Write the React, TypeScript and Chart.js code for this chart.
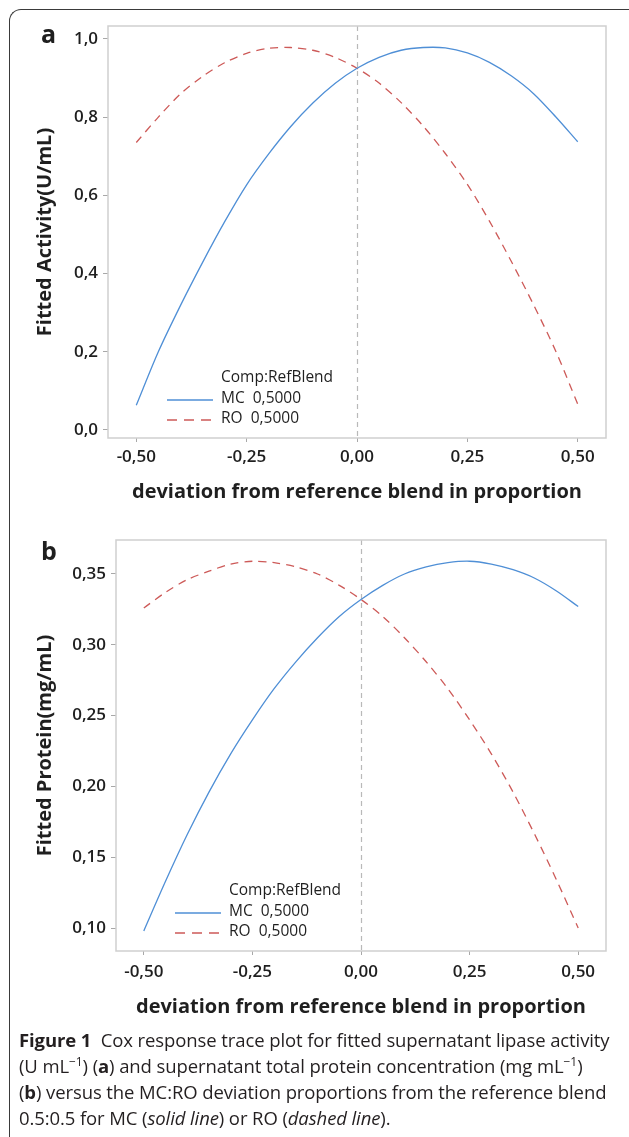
import React, { useEffect, useRef } from 'react';
import { Chart, registerables } from 'chart.js';

Chart.register(...registerables);

// ---------- data ----------
const xValues = [-0.5, -0.45, -0.4, -0.35, -0.3, -0.25, -0.2, -0.15, -0.1, -0.05, 0, 0.05, 0.1, 0.15, 0.2, 0.25, 0.3, 0.35, 0.4, 0.45, 0.5];

const mcActivity = [0.063, 0.2, 0.318, 0.428, 0.532, 0.627, 0.706, 0.776, 0.836, 0.886, 0.925, 0.953, 0.971, 0.978, 0.977, 0.964, 0.94, 0.905, 0.86, 0.801, 0.737];
const roActivity = [0.735, 0.8, 0.859, 0.904, 0.939, 0.963, 0.976, 0.978, 0.971, 0.953, 0.925, 0.887, 0.837, 0.777, 0.707, 0.628, 0.534, 0.43, 0.32, 0.202, 0.066];

const mcProtein = [0.098, 0.133, 0.166, 0.196, 0.223, 0.247, 0.269, 0.288, 0.305, 0.32, 0.332, 0.342, 0.35, 0.355, 0.358, 0.359, 0.357, 0.353, 0.347, 0.338, 0.327];
const roProtein = [0.326, 0.337, 0.346, 0.352, 0.357, 0.359, 0.358, 0.355, 0.35, 0.342, 0.332, 0.32, 0.305, 0.288, 0.269, 0.247, 0.223, 0.196, 0.166, 0.134, 0.1];

const xTickValues = [-0.5, -0.25, 0, 0.25, 0.5];
const xTickLabels = ['-0,50', '-0,25', '0,00', '0,25', '0,50'];

const yTickValuesA = [0, 0.2, 0.4, 0.6, 0.8, 1.0];
const yTickLabelsA = ['0,0', '0,2', '0,4', '0,6', '0,8', '1,0'];

const yTickValuesB = [0.1, 0.15, 0.2, 0.25, 0.3, 0.35];
const yTickLabelsB = ['0,10', '0,15', '0,20', '0,25', '0,30', '0,35'];

const seriesNames = ['MC  0,5000', 'RO  0,5000'];
const legendTitle = 'Comp:RefBlend';
const xTitle = 'deviation from reference blend in proportion';
const yTitleA = 'Fitted Activity(U/mL)';
const yTitleB = 'Fitted Protein(mg/mL)';

// ---------- styles ----------
const BLUE = '#4f8fd6';
const RED = '#cd5a58';
const FONT = '"Open Sans", "Noto Sans", sans-serif';
const TEXT = '#1f1f1f';

const refPlugin = {
  id: 'refAndLegend',
  beforeDatasetsDraw(chart: any) {
    const { ctx, chartArea } = chart;
    const { left, right, top, bottom } = chartArea;
    const x0 = chart.scales.x.getPixelForValue(0);
    ctx.save();
    ctx.strokeStyle = '#b9b9b9';
    ctx.lineWidth = 1.2;
    ctx.setLineDash([5, 4]);
    ctx.beginPath();
    ctx.moveTo(Math.round(x0) + 0.5, top);
    ctx.lineTo(Math.round(x0) + 0.5, bottom);
    ctx.stroke();
    ctx.setLineDash([]);
    ctx.strokeStyle = '#cfcfcf';
    ctx.lineWidth = 1.5;
    ctx.strokeRect(left, top, right - left, bottom - top);
    ctx.restore();
  },
  afterDatasetsDraw(chart: any) {
    const { ctx, chartArea } = chart;
    const { left, bottom } = chartArea;
    ctx.save();
    ctx.font = `500 15.5px ${FONT}`;
    ctx.fillStyle = TEXT;
    ctx.textBaseline = 'middle';
    ctx.textAlign = 'left';
    const tx = left + 113;
    ctx.fillText(legendTitle, tx, bottom - 60);
    ctx.fillText(seriesNames[0], tx, bottom - 39);
    ctx.fillText(seriesNames[1], tx, bottom - 19);
    ctx.lineWidth = 1.3;
    ctx.strokeStyle = BLUE;
    ctx.beginPath();
    ctx.moveTo(left + 59, bottom - 38);
    ctx.lineTo(left + 105, bottom - 38);
    ctx.stroke();
    ctx.strokeStyle = RED;
    ctx.setLineDash([10, 7]);
    ctx.beginPath();
    ctx.moveTo(left + 59, bottom - 18);
    ctx.lineTo(left + 108, bottom - 18);
    ctx.stroke();
    ctx.restore();
  },
};

type Cfg = {
  mc: number[];
  ro: number[];
  yTicks: number[];
  yLabels: string[];
  yMin: number;
  yMax: number;
  yTitle: string;
  yAxisWidth: number;
  padTop: number;
  xTitlePad: number;
  xTickPad: number;
};

function makeConfig(c: Cfg): any {
  return {
    type: 'line',
    data: {
      datasets: [
        {
          label: seriesNames[0],
          data: xValues.map((x, i) => ({ x, y: c.mc[i] })),
          borderColor: BLUE,
          borderWidth: 1.3,
          pointRadius: 0,
          tension: 0.3,
          fill: false,
        },
        {
          label: seriesNames[1],
          data: xValues.map((x, i) => ({ x, y: c.ro[i] })),
          borderColor: RED,
          borderWidth: 1.3,
          borderDash: [8, 6],
          pointRadius: 0,
          tension: 0.3,
          fill: false,
        },
      ],
    },
    options: {
      animation: false,
      responsive: false,
      maintainAspectRatio: false,
      devicePixelRatio: 1,
      layout: { padding: { left: 0, right: 23, top: c.padTop, bottom: 0 } },
      plugins: { legend: { display: false }, tooltip: { enabled: false } },
      scales: {
        x: {
          type: 'linear',
          min: -0.564,
          max: 0.564,
          afterBuildTicks: (s: any) => {
            s.ticks = xTickValues.map((v) => ({ value: v }));
          },
          afterFit: (s: any) => {
            s.height = 80;
          },
          ticks: {
            callback: (v: number) => xTickLabels[xTickValues.indexOf(v)] ?? '',
            font: { family: FONT, size: 17, weight: '600' },
            color: TEXT,
            padding: c.xTickPad,
            maxRotation: 0,
            autoSkip: false,
          },
          grid: { drawOnChartArea: false, drawTicks: true, tickLength: 4, color: '#a8a8a8', lineWidth: 1 },
          border: { display: false },
          title: {
            display: true,
            text: xTitle,
            font: { family: FONT, size: 20, weight: '700' },
            color: TEXT,
            padding: { top: 0, bottom: c.xTitlePad },
          },
        },
        y: {
          type: 'linear',
          min: c.yMin,
          max: c.yMax,
          afterBuildTicks: (s: any) => {
            s.ticks = c.yTicks.map((v) => ({ value: v }));
          },
          afterFit: (s: any) => {
            s.width = c.yAxisWidth;
          },
          ticks: {
            callback: (v: number) => c.yLabels[c.yTicks.indexOf(v)] ?? '',
            font: { family: FONT, size: 17, weight: '600' },
            color: TEXT,
            padding: 5,
            autoSkip: false,
          },
          grid: { drawOnChartArea: false, drawTicks: true, tickLength: 5, color: '#a8a8a8', lineWidth: 1 },
          border: { display: false },
          title: {
            display: true,
            text: c.yTitle,
            font: { family: FONT, size: 20, weight: '700' },
            color: TEXT,
            padding: { top: 33, bottom: 0 },
          },
        },
      },
    },
    plugins: [refPlugin],
  };
}

export default function App() {
  const refA = useRef<HTMLCanvasElement>(null);
  const refB = useRef<HTMLCanvasElement>(null);

  useEffect(() => {
    document.body.style.margin = '0';
    document.body.style.overflow = 'hidden';
    const chartA = new Chart(
      refA.current as HTMLCanvasElement,
      makeConfig({
        mc: mcActivity,
        ro: roActivity,
        yTicks: yTickValuesA,
        yLabels: yTickLabelsA,
        yMin: -0.0205,
        yMax: 1.033,
        yTitle: yTitleA,
        yAxisWidth: 108,
        padTop: 26,
        xTitlePad: 13.5,
        xTickPad: 5,
      })
    );
    const chartB = new Chart(
      refB.current as HTMLCanvasElement,
      makeConfig({
        mc: mcProtein,
        ro: roProtein,
        yTicks: yTickValuesB,
        yLabels: yTickLabelsB,
        yMin: 0.0838,
        yMax: 0.374,
        yTitle: yTitleB,
        yAxisWidth: 116,
        padTop: 22,
        xTitlePad: 12,
        xTickPad: 7,
      })
    );
    return () => {
      chartA.destroy();
      chartB.destroy();
    };
  }, []);

  const capLine: React.CSSProperties = {
    whiteSpace: 'nowrap',
    height: 26,
    lineHeight: '26px',
  };
  const sup: React.CSSProperties = { fontSize: 12, lineHeight: 0 };

  return (
    <div style={{ position: 'relative', width: 629, height: 1137, overflow: 'hidden', background: '#fff' }}>
      <div
        style={{
          position: 'absolute',
          left: 9,
          top: 9,
          width: 660,
          height: 1200,
          borderLeft: '1.5px solid #3a3a3a',
          borderTop: '1.5px solid #3a3a3a',
          borderTopLeftRadius: 12,
          boxSizing: 'border-box',
        }}
      />
      <canvas ref={refA} width={629} height={518} style={{ position: 'absolute', left: 0, top: 0 }} />
      <canvas ref={refB} width={629} height={513} style={{ position: 'absolute', left: 0, top: 518 }} />
      <div style={{ position: 'absolute', left: 41, top: 21, fontFamily: FONT, fontWeight: 700, fontSize: 25, lineHeight: '25px', color: TEXT }}>a</div>
      <div style={{ position: 'absolute', left: 41, top: 538, fontFamily: FONT, fontWeight: 700, fontSize: 25, lineHeight: '25px', color: TEXT }}>b</div>
      <div
        style={{
          position: 'absolute',
          left: 19,
          top: 1027,
          fontFamily: FONT,
          fontSize: 18.5,
          letterSpacing: '-0.1px',
          color: '#231f20',
        }}
      >
        <div style={capLine}>
          <b>Figure 1</b>&nbsp; Cox response trace plot for fitted supernatant lipase activity
        </div>
        <div style={capLine}>
          (U mL<sup style={sup}>−1</sup>) (<b>a</b>) and supernatant total protein concentration (mg mL
          <sup style={sup}>−1</sup>)
        </div>
        <div style={capLine}>
          (<b>b</b>) versus the MC:RO deviation proportions from the reference blend
        </div>
        <div style={capLine}>
          0.5:0.5 for MC (<i>solid line</i>) or RO (<i>dashed line</i>).
        </div>
      </div>
    </div>
  );
}
